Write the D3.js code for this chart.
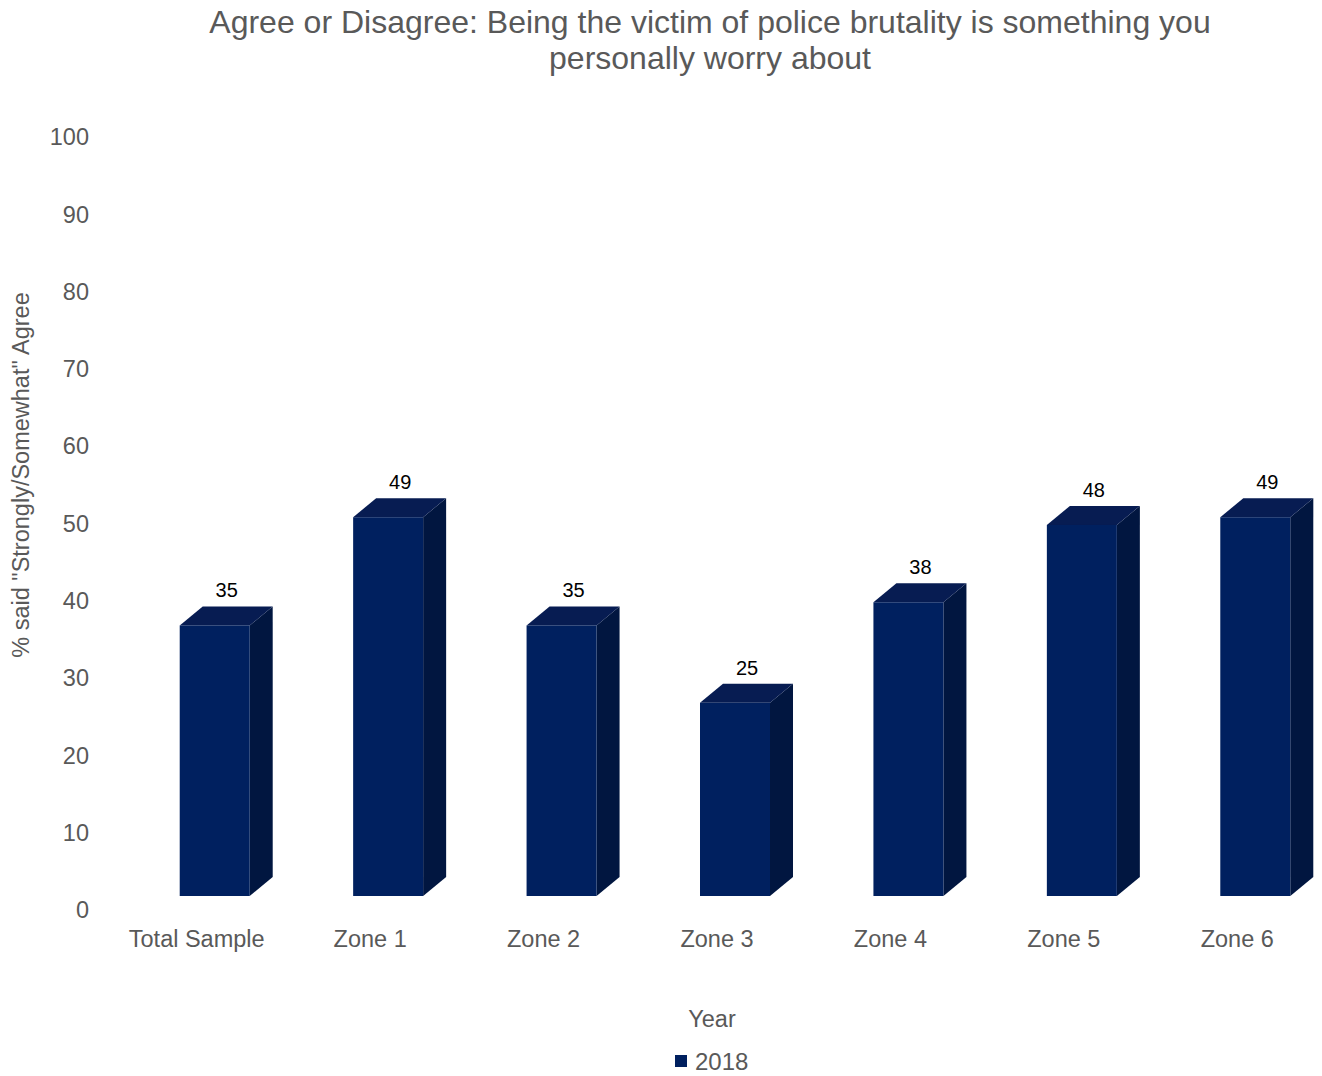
<!DOCTYPE html>
<html><head><meta charset="utf-8">
<script src="https://cdn.jsdelivr.net/npm/d3@7"></script>
<style>body{margin:0;background:#fff;font-family:"Liberation Sans",Arial,sans-serif;}</style>
</head><body><svg id="c" width="1322" height="1076"></svg>
<script>
const categories = ["Total Sample","Zone 1","Zone 2","Zone 3","Zone 4","Zone 5","Zone 6"];
const values2018 = [35,49,35,25,38,48,49];
const yTicks = [0,10,20,30,40,50,60,70,80,90,100];
const seriesName = "2018";

const svg = d3.select("#c");
const font = "Liberation Sans, Arial, sans-serif";
const gray = "#595959";
const x = d3.scaleBand().domain(categories).range([110,1324]);
const y = d3.scaleLinear().domain([0,100]).range([910,137]);
const floorShift = -14, dx = 23, dy = -19, frontLeft = -17, frontW = 70;

// title
svg.append("text").attr("x",710).attr("y",22).attr("dy","0.35em").attr("text-anchor","middle")
  .attr("font-family",font).attr("font-size",32).attr("fill",gray)
  .text("Agree or Disagree: Being the victim of police brutality is something you");
svg.append("text").attr("x",710).attr("y",58).attr("dy","0.35em").attr("text-anchor","middle")
  .attr("font-family",font).attr("font-size",32).attr("fill",gray)
  .text("personally worry about");

// y ticks
svg.append("g").selectAll("text").data(yTicks).join("text")
  .attr("x",89).attr("y",d=>y(d)).attr("dy","0.35em").attr("text-anchor","end")
  .attr("font-family",font).attr("font-size",23.5).attr("fill",gray).text(d=>d);

// y title
svg.append("text").attr("transform","translate(21,475) rotate(-90)").attr("dy","0.35em").attr("text-anchor","middle")
  .attr("font-family",font).attr("font-size",23.5).attr("fill",gray)
  .text('% said "Strongly/Somewhat" Agree');

// x labels
svg.append("g").selectAll("text").data(categories).join("text")
  .attr("x",d=>x(d)+x.bandwidth()/2).attr("y",939).attr("dy","0.35em").attr("text-anchor","middle")
  .attr("font-family",font).attr("font-size",23.5).attr("fill",gray).text(d=>d);

svg.append("text").attr("x",712).attr("y",1019).attr("dy","0.35em").attr("text-anchor","middle")
  .attr("font-family",font).attr("font-size",23.5).attr("fill",gray).text("Year");

// bars
const data = categories.map((c,i)=>({c,v:values2018[i]}));
const g = svg.append("g");
data.forEach(d=>{
  const cx = x(d.c)+x.bandwidth()/2;
  const x0 = cx+frontLeft, x1 = x0+frontW;
  const yb = y(0)+floorShift, yt = y(d.v)+floorShift;
  g.append("path").attr("d",`M${x1},${yb}L${x1+dx},${yb+dy}L${x1+dx},${yt+dy}L${x1},${yt}Z`).attr("fill","#011640");
  g.append("path").attr("d",`M${x0},${yt}L${x0+dx},${yt+dy}L${x1+dx},${yt+dy}L${x1},${yt}Z`).attr("fill","#071c52");
  g.append("rect").attr("x",x0).attr("y",yt).attr("width",frontW).attr("height",yb-yt).attr("fill","#00205f");
  g.append("text").attr("x",cx+30).attr("y",yt+dy-16).attr("dy","0.35em").attr("text-anchor","middle")
    .attr("font-family",font).attr("font-size",20).attr("fill","#000").text(d.v);
});

// legend
svg.append("rect").attr("x",675).attr("y",1055).attr("width",12).attr("height",12).attr("fill","#00205f");
svg.append("text").attr("x",695).attr("y",1062).attr("dy","0.35em")
  .attr("font-family",font).attr("font-size",24).attr("fill",gray).text(seriesName);
</script></body></html>
